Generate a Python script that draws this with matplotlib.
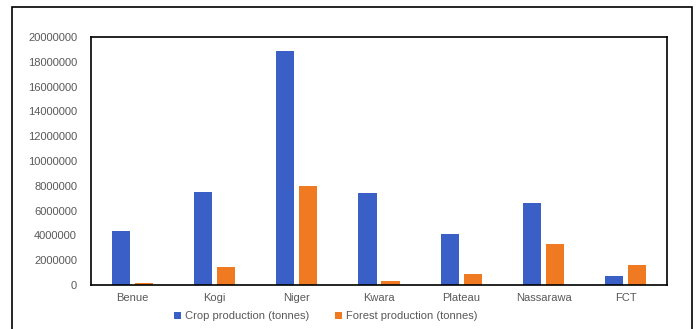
import matplotlib.pyplot as plt
import matplotlib.patches as mpatches
import numpy as np

states = ['Benue', 'Kogi', 'Niger', 'Kwara', 'Plateau', 'Nassarawa', 'FCT']
crop = [4350000, 7500000, 18870000, 7400000, 4100000, 6600000, 750000]
forest = [150000, 1450000, 7980000, 300000, 850000, 3300000, 1600000]
yticks = [0, 2000000, 4000000, 6000000, 8000000, 10000000,
          12000000, 14000000, 16000000, 18000000, 20000000]

blue = '#3a60c8'
orange = '#f07a22'
textColor = '#595959'

plt.rcParams['font.family'] = ['Liberation Sans', 'DejaVu Sans']

fig = plt.figure(figsize=(6.97, 3.29), dpi=100)

# outer border of the chart area
frame = mpatches.Rectangle((12 / 697, -0.05), 680 / 697, (322 / 329) + 0.05,
                           transform=fig.transFigure, fill=False,
                           edgecolor='black', linewidth=1.2)
fig.patches.append(frame)

ax = fig.add_axes([91 / 697, 44 / 329, 576 / 697, 248 / 329])

x = np.arange(len(states))
width = 0.22
ax.bar(x - 0.14, crop, width, color=blue, label='Crop production (tonnes)')
ax.bar(x + 0.14, forest, width, color=orange, label='Forest production (tonnes)')

ax.set_xlim(-0.5, len(states) - 0.5)
ax.set_ylim(0, 20000000)
ax.set_yticks(yticks)
ax.set_yticklabels([str(v) for v in yticks])
ax.set_xticks(x)
ax.set_xticklabels(states)
ax.tick_params(axis='both', length=0, labelsize=8, colors=textColor)
ax.tick_params(axis='y', pad=10)
ax.tick_params(axis='x', pad=6)

for spine in ax.spines.values():
    spine.set_color('black')
    spine.set_linewidth(1.2)

fig.legend(*ax.get_legend_handles_labels(), loc='center',
           bbox_to_anchor=(326 / 697, 1 - 316 / 329), ncol=2,
           frameon=False, fontsize=8, handlelength=0.6, handleheight=0.6,
           handletextpad=0.4, columnspacing=2.3, labelcolor=textColor)

fig.savefig('out.png', dpi=100)
